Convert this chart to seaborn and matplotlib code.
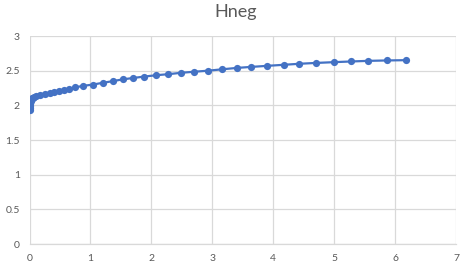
import matplotlib
matplotlib.use("Agg")
import matplotlib.pyplot as plt
import seaborn as sns
import pandas as pd

x_vals = [0.0, 0.002, 0.004, 0.007, 0.011, 0.017, 0.025, 0.036, 0.05, 0.07,
          0.10, 0.17, 0.25, 0.33, 0.41, 0.49, 0.57, 0.65, 0.75, 0.87,
          1.04, 1.20, 1.37, 1.53, 1.70, 1.88, 2.08, 2.28, 2.49, 2.70,
          2.93, 3.16, 3.40, 3.64, 3.90, 4.17, 4.43, 4.70, 4.99, 5.27,
          5.56, 5.87, 6.18]
y_vals = [1.93, 1.96, 1.99, 2.02, 2.045, 2.065, 2.085, 2.10, 2.112, 2.122,
          2.135, 2.15, 2.165, 2.18, 2.195, 2.21, 2.225, 2.24, 2.26, 2.28,
          2.30, 2.325, 2.35, 2.375, 2.395, 2.415, 2.435, 2.45, 2.47, 2.485,
          2.50, 2.52, 2.54, 2.555, 2.57, 2.585, 2.60, 2.612, 2.623, 2.633,
          2.642, 2.648, 2.652]
title = "Hneg"
x_ticks = [0, 1, 2, 3, 4, 5, 6, 7]
y_ticks = [0, 0.5, 1, 1.5, 2, 2.5, 3]
y_ticklabels = ["0", "0.5", "1", "1.5", "2", "2.5", "3"]

df = pd.DataFrame({"x": x_vals, "y": y_vals})

sns.set_theme(style="white")
plt.rcParams['font.family'] = ['Lato', 'DejaVu Sans']

fig = plt.figure(figsize=(4.64, 2.67), dpi=100)
ax = fig.add_axes([0.0636, 0.0861, 0.9192, 0.7789])

sns.lineplot(data=df, x="x", y="y", ax=ax, sort=False, color="#4472C4",
             linewidth=1.6, marker="o", markersize=5.2, markeredgewidth=0,
             markerfacecolor="#4472C4")

ax.set_xlim(0, 7)
ax.set_ylim(0, 3)
ax.set_xticks(x_ticks)
ax.set_yticks(y_ticks)
ax.set_yticklabels(y_ticklabels)
ax.grid(True, color="#d9d9d9", linewidth=0.9)
ax.set_axisbelow(True)
for s in ["top", "right", "left"]:
    ax.spines[s].set_visible(False)
ax.spines["bottom"].set_color("#d9d9d9")
ax.spines["bottom"].set_linewidth(0.9)
ax.tick_params(axis="both", length=0, labelsize=7.5, colors="#595959")
ax.tick_params(axis="x", pad=7)
ax.tick_params(axis="y", pad=7)
ax.set_xlabel("")
ax.set_ylabel("")
fig.text(0.507, 0.955, title, ha="center", va="center", fontsize=13,
         color="#595959")

fig.savefig("out.png", dpi=100)
